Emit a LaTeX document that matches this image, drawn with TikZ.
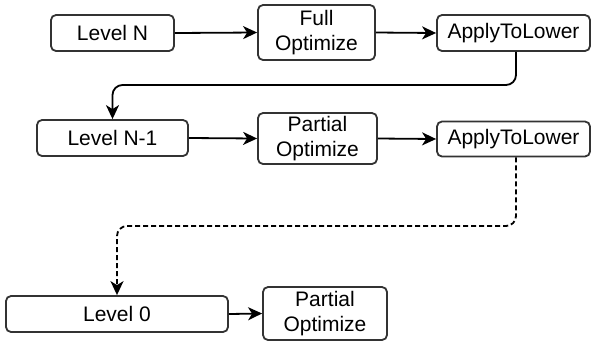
\documentclass[tikz,border=0pt]{standalone}
\usepackage{fontspec}
\setmainfont{Liberation Sans}
\usetikzlibrary{arrows.meta}
\definecolor{edge}{HTML}{333333}
\begin{document}
\begin{tikzpicture}[x=1pt,y=-1pt,
  box/.style={draw=edge,line width=1.8pt,rounded corners=5pt,align=center,
    inner sep=0pt,font=\fontsize{21}{25}\selectfont},
  conn/.style={draw=black,line width=1.8pt,-{Stealth[length=14pt,width=13pt,inset=4pt]}}]
\useasboundingbox (0,0) rectangle (591,341);
\node[box,minimum width=123pt,minimum height=36pt] (ln) at (112.5,33) {Level N};
\node[box,minimum width=117pt,minimum height=55pt] (full) at (316.5,32.5) {Full\\Optimize};
\node[box,minimum width=153pt,minimum height=36pt] (a1) at (513.5,33) {ApplyToLower};
\node[box,minimum width=151pt,minimum height=36pt] (ln1) at (112.5,138) {Level N-1};
\node[box,minimum width=119pt,minimum height=51pt] (p1) at (317.5,138.5) {Partial\\Optimize};
\node[box,minimum width=153pt,minimum height=35pt] (a2) at (513.5,139) {ApplyToLower};
\node[box,minimum width=222pt,minimum height=36pt] (l0) at (117,314) {Level 0};
\node[box,minimum width=124pt,minimum height=53pt] (p2) at (325,313.5) {Partial\\Optimize};
\draw[conn] (ln.east) -- (full.west);
\draw[conn] (full.east) -- (a1.west);
\draw[conn] (ln1.east) -- (p1.west);
\draw[conn] (p1.east) -- (a2.west);
\draw[conn] (l0.east) -- (p2.west);
\draw[conn,rounded corners=10pt] ([xshift=2.5pt]a1.south) -- ([xshift=2.5pt]a1.south |- 0,85) -| (ln1.north);
\draw[conn,dash pattern=on 5pt off 3pt,rounded corners=10pt] ([xshift=2.5pt]a2.south) -- ([xshift=2.5pt]a2.south |- 0,226) -| (l0.north);
\end{tikzpicture}
\end{document}
